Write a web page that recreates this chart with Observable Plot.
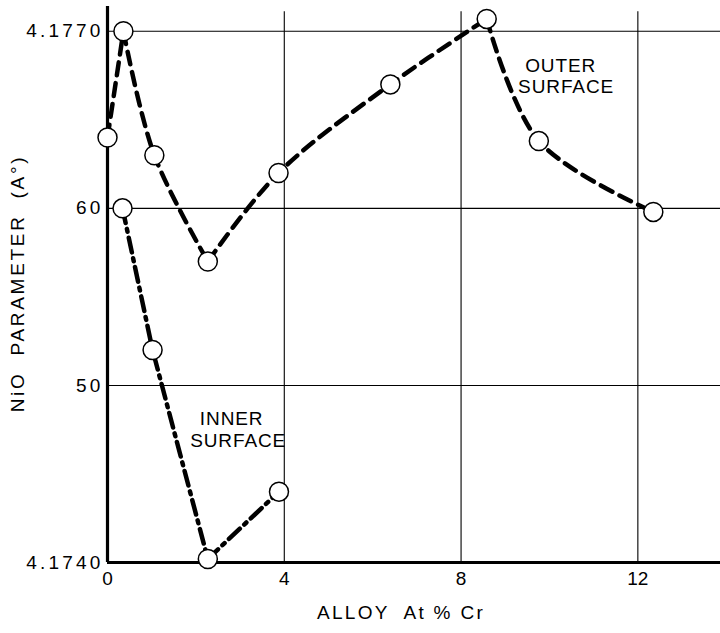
<!DOCTYPE html>
<html>
<head>
<meta charset="utf-8">
<script src="https://cdn.jsdelivr.net/npm/d3@7"></script>
<script src="https://cdn.jsdelivr.net/npm/@observablehq/plot@0.6"></script>
<style>
  html, body { margin: 0; padding: 0; background: #fff; }
</style>
</head>
<body>
<div id="chart"></div>
<script>
// ---- data ----
const outerX = [0, 0.36, 1.06, 2.27, 3.87, 6.40, 8.58, 9.76, 12.35];
const outerY = [4.1764, 4.1770, 4.1763, 4.1757, 4.1762, 4.1767, 4.17707, 4.17638, 4.17598];
const outerCorners = [1, 3, 6]; // points where the outer curve bends sharply
const innerX = [0.34, 1.02, 2.27, 3.88];
const innerY = [4.1760, 4.1752, 4.17402, 4.1744];

const xTicks = [0, 4, 8, 12];
const xTickLabels = ["0", "4", "8", "12"];
const yTicks = [4.1740, 4.1750, 4.1760, 4.1770];
const yTickLabels = ["4.1740", "50", "60", "4.1770"];
const xGrid = [4, 8, 12];
const yGrid = [4.1750, 4.1760, 4.1770];

const xTitle = "ALLOY  At % Cr";
const yTitle = "NiO  PARAMETER  (A°)";
const outerLabel = ["OUTER", "SURFACE"];
const innerLabel = ["INNER", "SURFACE"];

// ---- build tables ----
const breaks = [0, ...outerCorners, outerX.length - 1];
const outerSegs = [];
for (let s = 0; s < breaks.length - 1; s++) {
  for (let i = breaks[s]; i <= breaks[s + 1]; i++) {
    outerSegs.push({x: outerX[i], y: outerY[i], seg: s});
  }
}
const outer = outerX.map((x, i) => ({x, y: outerY[i]}));
const inner = innerX.map((x, i) => ({x, y: innerY[i]}));

const labels = [
  {x: 9.45, y: 4.17677, t: outerLabel[0]},
  {x: 9.29, y: 4.176651, t: outerLabel[1]},
  {x: 2.09, y: 4.174778, t: innerLabel[0]},
  {x: 1.87, y: 4.174654, t: innerLabel[1]}
];

const fontFamily = "'Liberation Sans', Arial, sans-serif";
const fs = 19;

const chart = Plot.plot({
  width: 720,
  height: 633,
  marginLeft: 107,
  marginRight: 0,
  marginTop: 6,
  marginBottom: 71,
  x: {domain: [0, 13.87]},
  y: {domain: [4.1740, 4.17714]},
  style: {fontFamily, fontSize: fs + "px", background: "#fff", color: "#000"},
  marks: [
    Plot.ruleX(xGrid, {y1: 4.17711, y2: 4.1740, stroke: "#000", strokeWidth: 1.1}),
    Plot.ruleY(yGrid, {stroke: "#000", strokeWidth: 1.1}),
    Plot.ruleX([0], {y1: 4.17714, y2: 4.1740, stroke: "#000", strokeWidth: 3.2}),
    Plot.ruleY([4.1740], {stroke: "#000", strokeWidth: 3.2}),
    Plot.line(inner, {x: "x", y: "y", stroke: "#000", strokeWidth: 4.5, strokeDasharray: "15,6,3,6"}),
    Plot.line(outerSegs, {x: "x", y: "y", z: "seg", curve: "catmull-rom", stroke: "#000", strokeWidth: 4.5, strokeDasharray: "13,8"}),
    Plot.dot(outer, {x: "x", y: "y", r: 9.5, fill: "#fff", stroke: "#000", strokeWidth: 1.5}),
    Plot.dot(inner, {x: "x", y: "y", r: 9.5, fill: "#fff", stroke: "#000", strokeWidth: 1.5}),
    Plot.axisX({ticks: xTicks, tickSize: 0, tickPadding: 9, label: null, fontSize: fs,
      tickFormat: d => xTickLabels[xTicks.indexOf(d)]}),
    Plot.axisY({ticks: yTicks, tickSize: 0, tickPadding: 4, label: null, fontSize: fs,
      tickFormat: d => yTickLabels[yTicks.findIndex(t => Math.abs(t - d) < 1e-7)]}),
    Plot.text(labels, {x: "x", y: "y", text: "t", textAnchor: "start", lineAnchor: "bottom", fontSize: fs}),
    Plot.text([xTitle], {frameAnchor: "bottom", dx: -13, dy: 50, fontSize: fs, textAnchor: "middle", lineAnchor: "middle"}),
    Plot.text([yTitle], {frameAnchor: "left", dx: -90, dy: -1, rotate: -90, fontSize: fs, textAnchor: "middle", lineAnchor: "middle"})
  ]
});
document.getElementById("chart").appendChild(chart);
d3.select(chart).selectAll("text").each(function() {
  const t = this.textContent;
  let ls = null;
  if (t === yTitle) ls = 2.7;
  else if (t === xTitle) ls = 2.3;
  else if (outerLabel.includes(t) || innerLabel.includes(t)) ls = 0.9;
  else if (yTickLabels.includes(t)) ls = 3.2;
  if (ls !== null) this.setAttribute("letter-spacing", ls);
});
</script>
</body>
</html>
